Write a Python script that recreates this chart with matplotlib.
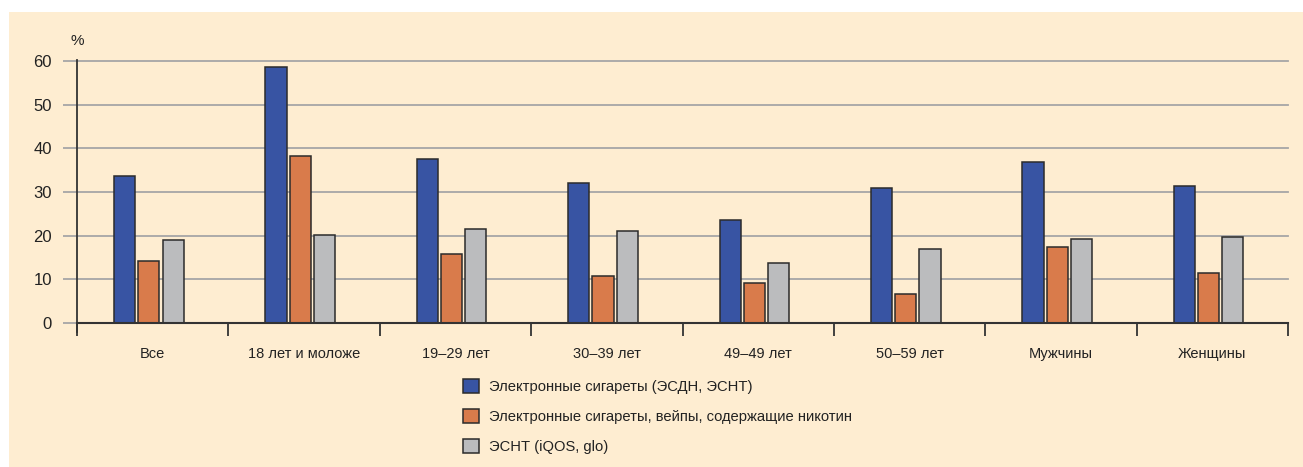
import matplotlib
matplotlib.use("Agg")
import matplotlib.pyplot as plt
import numpy as np
from matplotlib.patches import Rectangle

plt.rcParams['font.family'] = ['Liberation Sans', 'DejaVu Sans']

categories = ["Все", "18 лет и моложе", "19–29 лет", "30–39 лет",
              "49–49 лет", "50–59 лет", "Мужчины", "Женщины"]
series_names = ["Электронные сигареты (ЭСДН, ЭСНТ)",
                "Электронные сигареты, вейпы, содержащие никотин",
                "ЭСНТ (iQOS, glo)"]
ecig = [33.7, 58.7, 37.5, 32.0, 23.6, 30.9, 36.8, 31.4]
vape_nic = [14.3, 38.2, 15.8, 10.8, 9.2, 6.6, 17.5, 11.4]
esnt = [19.0, 20.2, 21.5, 21.1, 13.7, 16.9, 19.2, 19.8]
yticks = [0, 10, 20, 30, 40, 50, 60]

colors = ["#3854a3", "#d97b4b", "#bbbcbe"]
cream = "#feedd1"
grid_c = "#a6a6a6"

fig = plt.figure(figsize=(13.03, 4.67), dpi=100)
fig.patch.set_facecolor("white")
fig.patches.append(Rectangle((9 / 1303, 0), 1 - 9 / 1303, 1 - 12 / 467,
                             transform=fig.transFigure, facecolor=cream,
                             edgecolor="none", zorder=-10))

ax = fig.add_axes([77 / 1303, 144 / 467, (1288 - 77) / 1303, 262 / 467])
ax.set_facecolor("none")

n = len(categories)
x = np.arange(n) + 0.5
pitch = 0.16
width = 0.14
shift = -0.025
for i, (vals, c, name) in enumerate(zip([ecig, vape_nic, esnt], colors, series_names)):
    ax.bar(x + shift + (i - 1) * pitch, vals, width=width, color=c,
           edgecolor="#2b2b2b", linewidth=1.1, label=name, zorder=3)

ax.set_xlim(0, n)
ax.set_ylim(0, 60)
ax.set_yticks(yticks)
ax.set_yticklabels([str(v) for v in yticks], fontsize=12, color="#222222")
for v in yticks[1:]:
    ax.axhline(v, color=grid_c, linewidth=1.3, zorder=1, clip_on=False)
ax.tick_params(axis='y', length=10, width=1.3, color=grid_c, pad=8)

ax.set_xticks(np.arange(n + 1))
ax.set_xticklabels([])
ax.set_xticks(x, minor=True)
ax.set_xticklabels(categories, minor=True, fontsize=10.5, color="#222222")
ax.tick_params(axis='x', which='major', length=9, width=1.3, color="#333333", direction='out')
ax.tick_params(axis='x', which='minor', length=0, pad=17)

for s in ["top", "right"]:
    ax.spines[s].set_visible(False)
ax.spines["left"].set_color("#333333")
ax.spines["left"].set_linewidth(1.3)
ax.spines["left"].set_bounds(-2, 60.3)
ax.spines["bottom"].set_color("#333333")
ax.spines["bottom"].set_linewidth(1.5)
ax.spines["bottom"].set_zorder(4)

ax.text(0, 63.0, "%", fontsize=11, color="#222222", ha="center", va="bottom",
        transform=ax.transData, clip_on=False)

fig.legend(loc="upper left", bbox_to_anchor=(463 / 1303, 1 - 379 / 467),
           frameon=False, fontsize=10.6, handlelength=1.1, handleheight=1.1,
           handletextpad=0.65, labelspacing=1.0, borderpad=0, borderaxespad=0,
           labelcolor="#222222")

fig.savefig("out.png", dpi=100, facecolor=fig.get_facecolor())
